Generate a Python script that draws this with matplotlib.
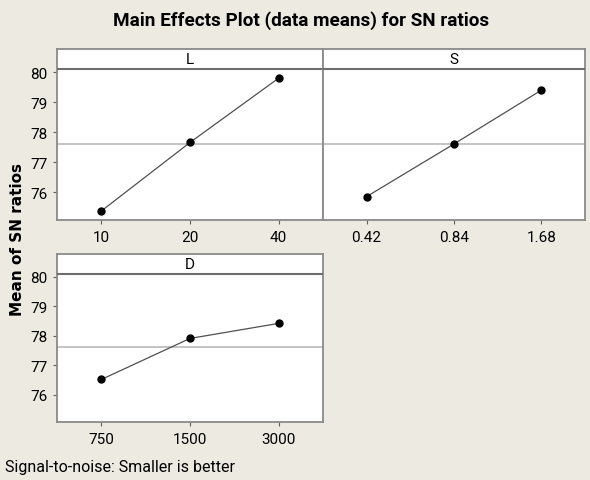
import matplotlib
matplotlib.use("Agg")
import matplotlib.pyplot as plt
import numpy as np

# Data
factors = ["L", "S", "D"]
levels = {
    "L": ["10", "20", "40"],
    "S": ["0.42", "0.84", "1.68"],
    "D": ["750", "1500", "3000"],
}
means = {
    "L": [75.38, 77.66, 79.80],
    "S": [75.86, 77.61, 79.40],
    "D": [76.52, 77.91, 78.42],
}
grand_mean = 77.61
yticks = [76, 77, 78, 79, 80]

title = "Main Effects Plot (data means) for SN ratios"
ylabel = "Mean of SN ratios"
footer = "Signal-to-noise: Smaller is better"

FONT = ["Roboto", "DejaVu Sans"]
BG = "#EDEAE1"
W, H = 590, 481
fig = plt.figure(figsize=(W / 100, H / 100), dpi=100, facecolor=BG)

def frac(x0, y0, x1, y1):
    return [x0 / W, 1 - y1 / H, (x1 - x0) / W, (y1 - y0) / H]

rects = {
    "L": frac(57, 50, 323, 221),
    "S": frac(323, 50, 585, 221),
    "D": frac(57, 255, 323, 423),
}
ylo, yhi, ystrip = 75.08, 80.77, 80.10

for f in factors:
    ax = fig.add_axes(rects[f], facecolor="white")
    x = np.arange(1, 4)
    ax.axhline(grand_mean, color="#C4C4C4", lw=1.4, zorder=1)
    ax.axhline(ystrip, color="#6E6E6E", lw=1.5, zorder=3)
    ax.plot(x, means[f], color="#505050", lw=0.9, zorder=4)
    ax.plot(x, means[f], "o", color="black", ms=5, zorder=5)
    ax.text(2, (ystrip + yhi) / 2, f, ha="center", va="center",
            fontsize=11, color="black", family=FONT)
    ax.set_xlim(0.5, 3.5)
    ax.set_ylim(ylo, yhi)
    ax.set_xticks(x)
    ax.set_xticklabels(levels[f], fontsize=11, family=FONT)
    if f == "S":
        ax.set_yticks([])
    else:
        ax.set_yticks(yticks)
        ax.set_yticklabels([str(v) for v in yticks], fontsize=11, family=FONT)
    for s in ax.spines.values():
        s.set_color("#8A8A8A")
        s.set_linewidth(1.3)
    ax.tick_params(direction="out", length=3, width=0.8, color="#606060",
                   pad=4, labelcolor="black")

fig.text(301 / W, 1 - 21 / H, title, ha="center", va="center",
         fontsize=13.6, fontweight="bold", family=FONT)
fig.text(18 / W, 1 - 239 / H, ylabel, ha="center", va="center",
         rotation=90, fontsize=11, fontweight="bold")
fig.text(5 / W, 1 - 468 / H, footer, ha="left", va="center", fontsize=11.5,
         family=FONT)

fig.savefig("out.png", dpi=100, facecolor=BG)
